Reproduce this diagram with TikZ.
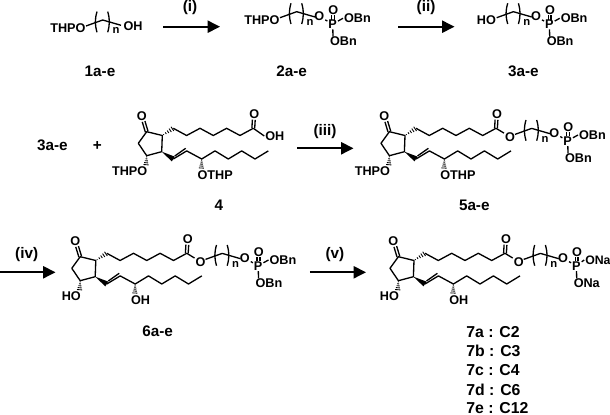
\documentclass[tikz,border=0pt]{standalone}
\usepackage{fontspec}
\setmainfont{Liberation Sans}
\usetikzlibrary{calc,arrows.meta}

\tikzstyle{atom}=[font=\fontsize{7.2}{8}\selectfont\bfseries,inner sep=0.4pt]
\tikzstyle{subn}=[font=\fontsize{6.4}{7}\selectfont\bfseries,inner sep=0pt]
\tikzstyle{label}=[font=\fontsize{8.7}{10}\selectfont\bfseries,inner sep=0pt]
\tikzstyle{listlab}=[font=\fontsize{9}{10}\selectfont\bfseries,inner sep=0pt,anchor=west]
\tikzstyle{bond}=[draw=black,line width=0.75pt,line join=round]
\tikzstyle{rxn}=[draw=black,line width=1.2pt,-{Triangle[length=7pt,width=6.8pt]}]

% double bond, hashed wedge and solid wedge
\newcommand{\dbond}[2]{
	\draw[bond] ($(#1)!0.8pt!90:(#2)$) -- ($(#2)!0.8pt!-90:(#1)$);
	\draw[bond] ($(#1)!0.8pt!-90:(#2)$) -- ($(#2)!0.8pt!90:(#1)$);
}
\newcommand{\hbond}[2]{
	\foreach \t/\w in {0.12/0.25,0.32/0.55,0.52/0.85,0.72/1.15,0.92/1.45}{
		\draw[line width=0.5pt] ($(#1)!\t!(#2)!\w pt!90:(#2)$) -- ($(#1)!\t!(#2)!\w pt!-90:(#2)$);
	}
}
\newcommand{\wbond}[2]{
	\fill[black] (#1) -- ($(#2)!1.6pt!90:(#1)$) -- ($(#2)!1.6pt!-90:(#1)$) -- cycle;
}

% cyclopentanone with both side chains: prefix, dx, dy, ring label, chain label
\newcommand{\pgcore}[5]{
	\begin{scope}[shift={(#2,#3)}]
		\coordinate (#1c1) at (146.7,131.7);
		\coordinate (#1c2) at (162.3,135.5);
		\coordinate (#1c3) at (161.7,151.7);
		\coordinate (#1c4) at (146.7,155.7);
		\coordinate (#1c5) at (138.3,143.3);
		\coordinate (#1ko) at (143.6,121.5);
		\node[atom] (#1ketO) at (141.7,116.3) {O};
		\coordinate (#1a7) at (173.3,128.3);
		\coordinate (#1a6) at (186.6,135.5);
		\coordinate (#1a5) at (200,128.3);
		\coordinate (#1a4) at (213.3,135.5);
		\coordinate (#1a3) at (226.6,128.3);
		\coordinate (#1a2) at (240,135.5);
		\coordinate (#1a1) at (253.3,128.3);
		\coordinate (#1ao) at (253.8,119.8);
		\node[atom] (#1acidO) at (254.3,114.3) {O};
		\coordinate (#1w13) at (173.3,159);
		\coordinate (#1w14) at (186.7,150.9);
		\coordinate (#1w15) at (201.7,159);
		\coordinate (#1w16) at (215,150.9);
		\coordinate (#1w17) at (228.3,159);
		\coordinate (#1w18) at (241.7,150.9);
		\coordinate (#1w19) at (255,159);
		\coordinate (#1w20) at (268.3,150.9);
		\coordinate (#1ro) at (146,165.5);
		\coordinate (#1so) at (201.3,168.8);
		\node[atom,anchor=east] (#1rlab) at (148.3,171) {#4};
		\node[atom,anchor=west] (#1slab) at (196.6,175.3) {#5};

		\draw[bond] (#1c1) -- (#1c2) -- (#1c3) -- (#1c4) -- (#1c5) -- cycle;
		\dbond{#1c1}{#1ko}
		\hbond{#1c2}{#1a7}
		\draw[bond] (#1a7) -- (#1a6) -- (#1a5) -- (#1a4) -- (#1a3) -- (#1a2) -- (#1a1);
		\dbond{#1a1}{#1ao}
		\wbond{#1c3}{#1w13}
		\draw[bond] (#1w13) -- (#1w14) -- (#1w15) -- (#1w16) -- (#1w17) -- (#1w18) -- (#1w19) -- (#1w20);
		\draw[bond] ($(#1w13)+(1.5,-3)$) -- ($(#1w14)+(-1,-2.6)$);
		\hbond{#1c4}{#1ro}
		\hbond{#1w15}{#1so}
	\end{scope}
}

% (CH2)n unit, measured from the oxygen on its left
\newcommand{\nchain}[3]{
	\begin{scope}[shift={(#2,#3)}]
		\coordinate (#1s) at (5,-2.3);
		\coordinate (#1m) at (21.7,-8.3);
		\coordinate (#1e) at (40,-3);
		\draw[bond] (#1s) -- (#1m) -- (#1e);
		\draw[bond] (16,-16.7) .. controls (13.8,-9) and (13.8,-4) .. (16,4);
		\draw[bond] (26.7,-16.7) .. controls (28.9,-9) and (28.9,-4) .. (26.7,4);
		\node[subn] (#1n) at (35,2.3) {n};
	\end{scope}
}

% phosphate, same origin as \nchain; last argument is where the right label starts
\newcommand{\phos}[6]{
	\begin{scope}[shift={(#2,#3)}]
		\node[atom] (#1O) at (44.3,-3.4) {O};
		\node[atom] (#1P) at (57.7,4) {P};
		\node[atom] (#1Ot) at (58.3,-9.7) {O};
		\node[atom,anchor=west] (#1Or) at (#6,-1.7) {#4};
		\node[atom,anchor=west] (#1Od) at (54,21.6) {#5};
		\coordinate (#1a) at (58,-4.6);
		\coordinate (#1b) at (58,-0.2);
		\coordinate (#1c) at (58,16.6);
		\draw[bond] (#1O) -- (#1P);
		\dbond{#1a}{#1b}
		\draw[bond] (#1P) -- (#1Or.west);
		\draw[bond] (#1P) -- (#1c);
	\end{scope}
}

\begin{document}
\begin{tikzpicture}[x=0.02cm,y=-0.02cm]
	\useasboundingbox (0,0) rectangle (610,415);

	% top row
	\node[atom,anchor=east] (thpA) at (86.5,28.3) {THPO};
	\nchain{pa}{81}{28.3}
	\node[atom,anchor=west] (ohA) at (122.5,26) {OH};
	\node[label] (lab1) at (100,71) {1a-e};

	\node[atom,anchor=east] (thpB) at (280.5,20) {THPO};
	\nchain{pb}{275}{20}
	\phos{qb}{275}{20}{OBn}{OBn}{68}
	\node[label] (lab2) at (291.7,71) {2a-e};

	\node[atom,anchor=east] (hoC) at (497,20) {HO};
	\nchain{pc}{491.7}{20}
	\phos{qc}{491.7}{20}{OBn}{OBn}{68}
	\node[label] (lab3) at (523.3,71) {3a-e};

	\coordinate (r1a) at (163.3,26.7);
	\coordinate (r1b) at (220,26.7);
	\path[rxn] (r1a) -- (r1b);
	\node[label] (r1) at (190,7.3) {(i)};
	\coordinate (r2a) at (398.3,26.7);
	\coordinate (r2b) at (454.5,26.7);
	\path[rxn] (r2a) -- (r2b);
	\node[label] (r2) at (426,7.3) {(ii)};

	% middle row
	\node[label] (lab3b) at (52.3,145) {3a-e};
	\node[label] (plus) at (97.3,145.7) {+};
	\pgcore{d}{0}{0}{THPO}{OTHP}
	\node[atom,anchor=west] (ohD) at (264.3,136) {OH};
	\draw[bond] (da1) -- (ohD.west);
	\node[label] (lab4) at (219,205) {4};

	\coordinate (r3a) at (297.3,148.3);
	\coordinate (r3b) at (353.5,148.3);
	\path[rxn] (r3a) -- (r3b);
	\node[label] (r3) at (325,131.7) {(iii)};

	\pgcore{e}{242.7}{0}{THPO}{OTHP}
	\node[atom] (oE) at (510,136.7) {O};
	\draw[bond] (ea1) -- (oE);
	\nchain{pe}{510}{136.7}
	\phos{qe}{510}{136.7}{OBn}{OBn}{68}
	\node[label] (lab5) at (474.3,205) {5a-e};

	% bottom row
	\coordinate (r4a) at (0,272.3);
	\coordinate (r4b) at (55.5,272.3);
	\path[rxn] (r4a) -- (r4b);
	\node[label] (r4) at (26.7,255) {(iv)};

	\pgcore{f}{-66.5}{125}{HO}{OH}
	\node[atom] (oF) at (200.5,261.7) {O};
	\draw[bond] (fa1) -- (oF);
	\nchain{pf}{200.5}{261.7}
	\phos{qf}{200.5}{261.7}{OBn}{OBn}{68}
	\node[label] (lab6) at (157.7,331) {6a-e};

	\coordinate (r5a) at (310,272.3);
	\coordinate (r5b) at (366,272.3);
	\path[rxn] (r5a) -- (r5b);
	\node[label] (r5) at (335,255) {(v)};

	\pgcore{g}{251.7}{125}{HO}{OH}
	\node[atom] (oG) at (518.7,261.7) {O};
	\draw[bond] (ga1) -- (oG);
	\nchain{pg}{518.7}{261.7}
	\phos{qg}{518.7}{261.7}{\fontsize{7}{8}\selectfont ONa}{ONa}{65.5}

	\node[listlab] (lab7a) at (466,331.7) {7a : C2};
	\node[listlab] (lab7b) at (466,350.5) {7b : C3};
	\node[listlab] (lab7c) at (466,370) {7c : C4};
	\node[listlab] (lab7d) at (466,389.5) {7d : C6};
	\node[listlab] (lab7e) at (466,407.8) {7e : C12};
\end{tikzpicture}
\end{document}
